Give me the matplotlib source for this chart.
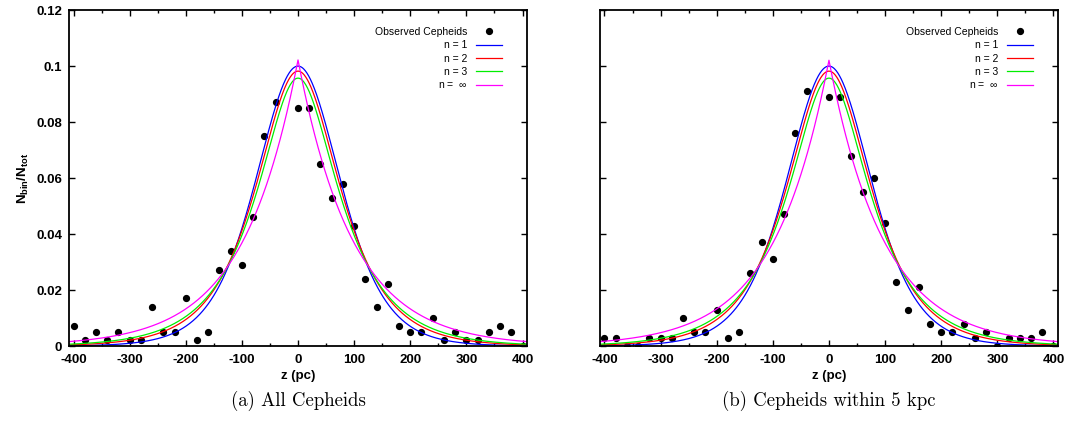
import numpy as np
import matplotlib
matplotlib.use("Agg")
import matplotlib.pyplot as plt
from matplotlib.ticker import MultipleLocator

plt.rcParams["font.family"] = ["Liberation Sans", "DejaVu Sans"]
plt.rcParams["mathtext.fontset"] = "custom"
plt.rcParams["mathtext.rm"] = "Liberation Sans"
plt.rcParams["mathtext.bf"] = "Liberation Sans:bold"
plt.rcParams["axes.unicode_minus"] = False

# Bin centres (pc); the -20 bin is empty in both samples.
z_bins = [-400, -380, -360, -340, -320, -300, -280, -260, -240, -220, -200,
          -180, -160, -140, -120, -100, -80, -60, -40, 0, 20, 40, 60, 80,
          100, 120, 140, 160, 180, 200, 220, 240, 260, 280, 300, 320, 340,
          360, 380, 400]

frac_all = [0.007, 0.002, 0.005, 0.002, 0.005, 0.002, 0.002, 0.014, 0.005,
            0.005, 0.017, 0.002, 0.005, 0.027, 0.034, 0.029, 0.046, 0.075,
            0.087, 0.085, 0.085, 0.065, 0.053, 0.058, 0.043, 0.024, 0.014,
            0.022, 0.007, 0.005, 0.005, 0.010, 0.002, 0.005, 0.002, 0.002,
            0.005, 0.007, 0.005, 0.000]

frac_5kpc = [0.003, 0.003, 0.000, 0.000, 0.003, 0.003, 0.003, 0.010, 0.005,
             0.005, 0.013, 0.003, 0.005, 0.026, 0.037, 0.031, 0.047, 0.076,
             0.091, 0.089, 0.089, 0.068, 0.055, 0.060, 0.044, 0.023, 0.013,
             0.021, 0.008, 0.005, 0.005, 0.008, 0.003, 0.005, 0.000, 0.003,
             0.003, 0.003, 0.005, 0.000]

# sech^(2/n) fits: peak value and scale height (pc) for n = 1, 2, 3, inf
fit_n = [1, 2, 3, np.inf]
fit_labels = ["n = 1", "n = 2", "n = 3", "n =  $\\infty$"]
fit_colors = ["#0000ff", "#ff0000", "#00ee00", "#ff00ff"]
peak_all = [0.1000, 0.0982, 0.0957, 0.1022]
height_all = [100.0, 66.0, 50.0, 98.0]
peak_5kpc = [0.1000, 0.0982, 0.0957, 0.1021]
height_5kpc = [100.0, 66.0, 50.0, 98.0]

captions = ["(a) All Cepheids", "(b) Cepheids within 5 kpc"]


def profile(z, n, peak, h):
    if np.isinf(n):
        return peak * np.exp(-np.abs(z) / h)
    return peak / np.cosh(z / h) ** (2.0 / n)


fig = plt.figure(figsize=(10.67, 4.21), dpi=100)
ax_a = fig.add_axes([0.0647, 0.178, 0.4292, 0.798])
ax_b = fig.add_axes([0.5623, 0.178, 0.4292, 0.798])

z = np.linspace(-408, 408, 817)

panels = [
    (ax_a, frac_all, peak_all, height_all),
    (ax_b, frac_5kpc, peak_5kpc, height_5kpc),
]

for ax, frac, peaks, heights in panels:
    ax.plot(z_bins, frac, "o", color="black", markersize=4.2,
            label="Observed Cepheids")
    for n, lab, col, pk, h in zip(fit_n, fit_labels, fit_colors, peaks, heights):
        ax.plot(z, profile(z, n, pk, h), color=col, linewidth=0.9, label=lab)

    ax.set_xlim(-408, 408)
    ax.set_ylim(0, 0.12)
    ax.xaxis.set_major_locator(MultipleLocator(100))
    ax.xaxis.set_minor_locator(MultipleLocator(50))
    ax.yaxis.set_major_locator(MultipleLocator(0.02))
    ax.tick_params(which="both", direction="in", top=True, right=True,
                   width=1.0, labelsize=9.5)
    ax.tick_params(axis="x", pad=5.5)
    ax.tick_params(axis="y", pad=5)
    ax.tick_params(which="major", length=4)
    ax.tick_params(which="minor", length=2.5)
    for lab in ax.get_xticklabels() + ax.get_yticklabels():
        lab.set_fontweight("bold")
    for sp in ax.spines.values():
        sp.set_linewidth(1.3)
    ax.set_xlabel("z (pc)", fontweight="bold", fontsize=9.5, labelpad=3)

    leg = ax.legend(loc="upper right", bbox_to_anchor=(0.957, 0.965),
                    frameon=False, markerfirst=False, fontsize=7.5,
                    handlelength=2.5, handletextpad=0.8, labelspacing=0.32,
                    borderpad=0, numpoints=1)

ax_a.set_yticks([0, 0.02, 0.04, 0.06, 0.08, 0.1, 0.12])
ax_a.set_yticklabels(["0", "0.02", "0.04", "0.06", "0.08", "0.1", "0.12"],
                     fontweight="bold")
ax_a.set_ylabel(r"$\mathbf{N_{bin}/N_{tot}}$", fontsize=9.5, labelpad=4)
ax_b.tick_params(labelleft=False)

for ax, cap in zip([ax_a, ax_b], captions):
    pos = ax.get_position()
    fig.text((pos.x0 + pos.x1) / 2, 0.048, cap, ha="center", va="center",
             fontsize=13.5, family="cmr10")

fig.savefig("out.png", dpi=100)
